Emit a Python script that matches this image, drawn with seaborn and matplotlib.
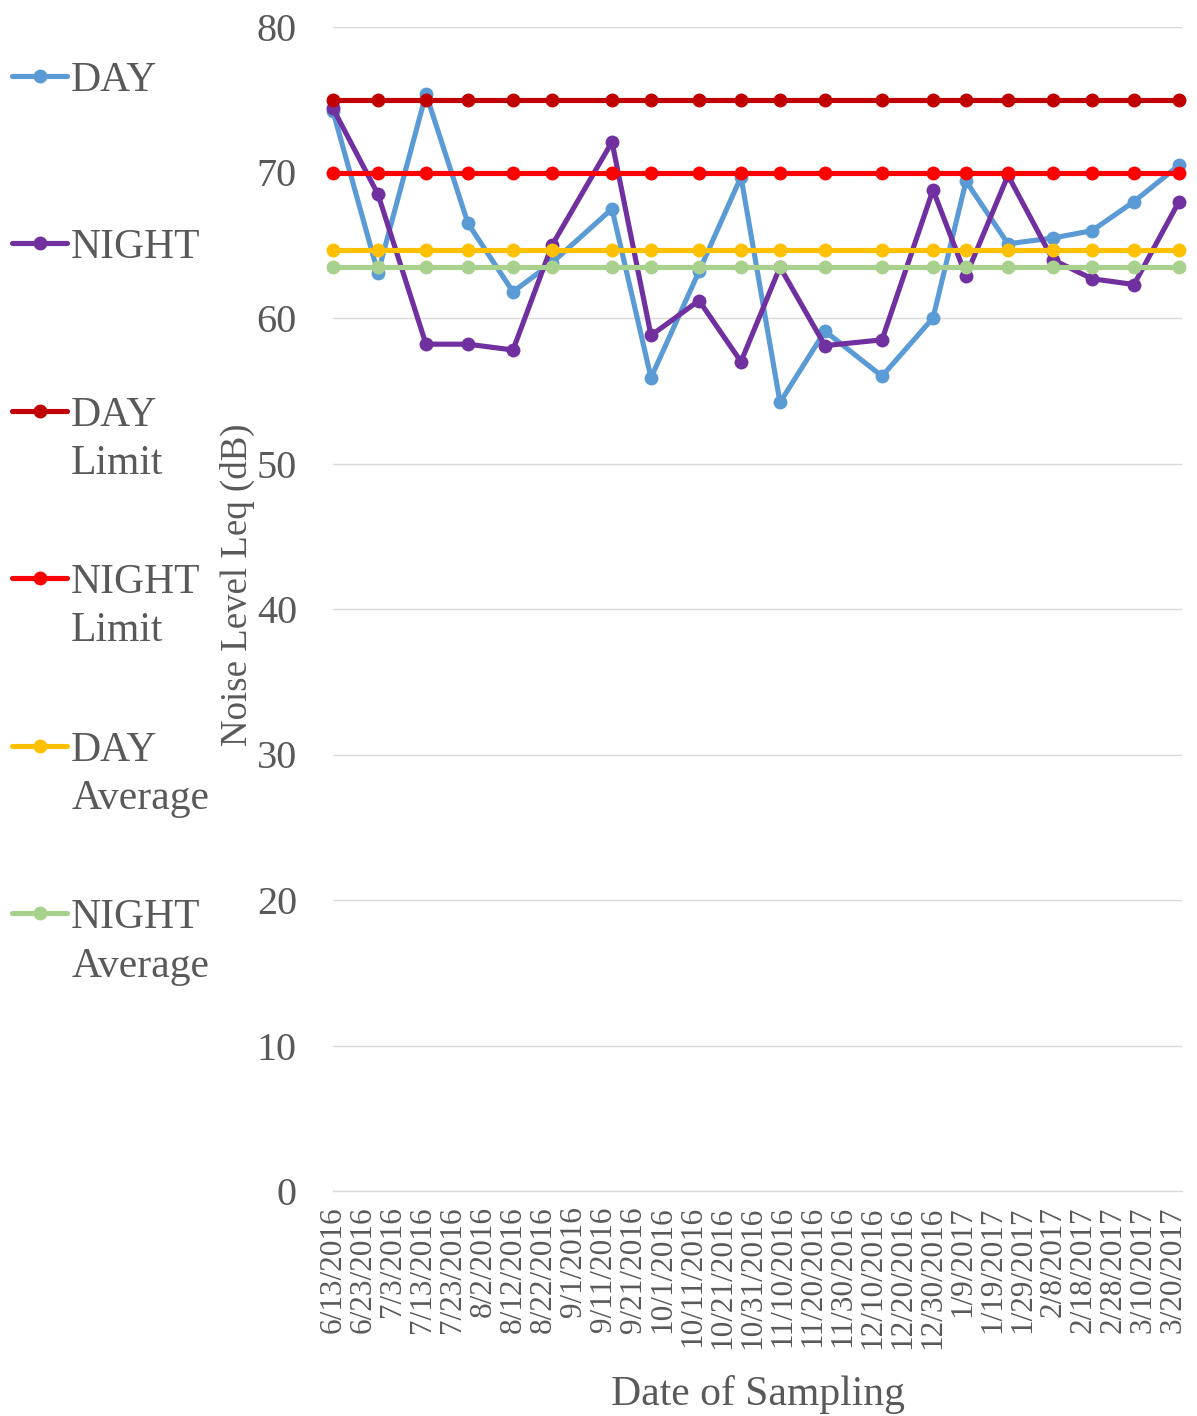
"""Noise level (Leq) per sampling date, day vs night, with limits and averages."""

import matplotlib

matplotlib.use("Agg")

import matplotlib.pyplot as plt
import numpy as np
import pandas as pd
import seaborn as sns
from matplotlib.lines import Line2D


# sampling dates (10-day tick spacing)
SAMPLE_DATES = [
    "2016-06-13", "2016-06-28", "2016-07-14", "2016-07-28", "2016-08-12",
    "2016-08-25", "2016-09-14", "2016-09-27", "2016-10-13", "2016-10-27",
    "2016-11-09", "2016-11-24", "2016-12-13", "2016-12-30", "2017-01-10",
    "2017-01-24", "2017-02-08", "2017-02-21", "2017-03-07", "2017-03-22",
]
DAY = [74.2, 63.1, 75.4, 66.5, 61.8, 63.8, 67.5, 55.9, 63.2, 69.7,
       54.2, 59.1, 56.0, 60.0, 69.4, 65.1, 65.5, 66.0, 68.0, 70.5]
NIGHT = [74.4, 68.5, 58.2, 58.2, 57.8, 65.0, 72.1, 58.8, 61.2, 57.0,
         63.5, 58.1, 58.5, 68.8, 62.9, 69.8, 64.0, 62.7, 62.3, 68.0]
DAY_LIMIT = 75.0
NIGHT_LIMIT = 70.0
DAY_AVERAGE = 64.7
NIGHT_AVERAGE = 63.5

SERIES = ["DAY", "NIGHT", "DAY Limit", "NIGHT Limit", "DAY Average", "NIGHT Average"]
LEGEND_LABELS = ["DAY\n ", "NIGHT\n ", "DAY\nLimit", "NIGHT\nLimit", "DAY\nAverage", "NIGHT\nAverage"]
COLORS = ["#5B9BD5", "#7030A0", "#C00000", "#FF0000", "#FFC000", "#A9D18E"]

TICK_START = "2016-06-13"
TICK_COUNT = 29
X_MIN = "2016-06-13"
X_MAX = "2017-03-23"

TEXT_COLOR = "#595959"
GRID_COLOR = "#D9D9D9"
FONT = "Liberation Serif"


def build_frame() -> pd.DataFrame:
    dates = pd.to_datetime(SAMPLE_DATES)
    n = len(dates)
    values = {
        "DAY": DAY,
        "NIGHT": NIGHT,
        "DAY Limit": [DAY_LIMIT] * n,
        "NIGHT Limit": [NIGHT_LIMIT] * n,
        "DAY Average": [DAY_AVERAGE] * n,
        "NIGHT Average": [NIGHT_AVERAGE] * n,
    }
    frames = [pd.DataFrame({"date": dates, "value": v, "series": k}) for k, v in values.items()]
    return pd.concat(frames, ignore_index=True)


def main() -> None:
    sns.set_style("white")
    plt.rcParams["font.family"] = [FONT, "DejaVu Serif"]

    df = build_frame()

    W, H = 1197, 1416
    fig = plt.figure(figsize=(W / 100, H / 100), dpi=100)
    ax = fig.add_axes([333 / W, 225 / H, 849 / W, 1164 / H])

    lw, ms = 3.7, 10
    sns.lineplot(
        data=df,
        x="date",
        y="value",
        hue="series",
        hue_order=SERIES,
        palette=COLORS,
        estimator=None,
        errorbar=None,
        sort=False,
        marker="o",
        markersize=ms,
        markeredgewidth=0,
        linewidth=lw,
        clip_on=False,
        legend=False,
        ax=ax,
    )

    ax.set_ylim(0, 80)
    ax.set_yticks(np.arange(0, 81, 10))
    ax.set_xlim(pd.Timestamp(X_MIN), pd.Timestamp(X_MAX))
    ticks = pd.date_range(TICK_START, periods=TICK_COUNT, freq="10D")
    ax.set_xticks(ticks)
    ax.set_xticklabels([f"{d.month}/{d.day}/{d.year}" for d in ticks], rotation=90)

    ax.grid(axis="y", color=GRID_COLOR, linewidth=1.0)
    ax.grid(axis="x", visible=False)
    ax.set_axisbelow(True)
    for side in ["left", "top", "right"]:
        ax.spines[side].set_visible(False)
    ax.spines["bottom"].set_color(GRID_COLOR)
    ax.spines["bottom"].set_linewidth(1.0)

    ax.tick_params(axis="x", direction="out", length=5, width=1.0, color=GRID_COLOR,
                   labelcolor=TEXT_COLOR, labelsize=22.5, pad=6)
    ax.tick_params(axis="y", length=0, labelcolor=TEXT_COLOR, labelsize=29, pad=26)

    ax.set_xlabel("Date of Sampling", fontsize=30, color=TEXT_COLOR)
    ax.xaxis.set_label_coords(0.5, -0.158)
    ax.set_ylabel("Noise Level Leq (dB)", fontsize=26.6, color=TEXT_COLOR)
    ax.yaxis.set_label_coords(-0.092, 0.521)

    handles = [
        Line2D([], [], color=c, linewidth=lw, marker="o", markersize=ms, markeredgewidth=0)
        for c in COLORS
    ]
    leg = fig.legend(
        handles,
        LEGEND_LABELS,
        loc="upper left",
        bbox_to_anchor=(12 / W, 1 - 61 / H),
        frameon=False,
        prop={"family": FONT, "size": 30},
        labelcolor=TEXT_COLOR,
        handlelength=1.32,
        handletextpad=0.1,
        labelspacing=1.94,
        borderpad=0,
        borderaxespad=0,
    )
    for t in leg.get_texts():
        t.set_linespacing(1.33)
    # keep the marker next to the first line of two-line labels
    for col in leg._legend_handle_box.get_children():
        for row in col.get_children():
            row.align = "top"

    fig.savefig("out.png", dpi=100)
    plt.close(fig)


if __name__ == "__main__":
    main()
